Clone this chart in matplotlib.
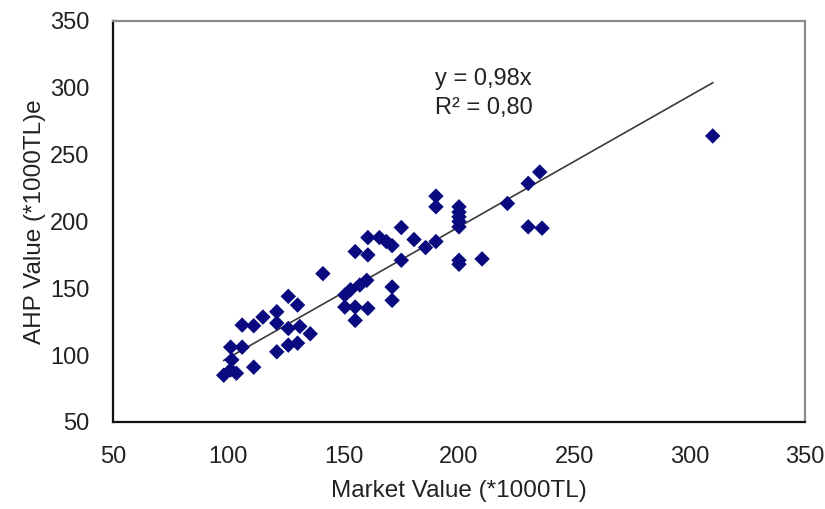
import numpy as np
import matplotlib
matplotlib.use("Agg")
import matplotlib.pyplot as plt

plt.rcParams['font.family'] = ['Liberation Sans', 'DejaVu Sans']

# Market value vs AHP value (*1000TL)
market = [310, 235, 230, 221, 230, 236, 190, 190,
          200, 200, 200, 200, 200, 200, 200, 210,
          175, 180.5, 185.5, 190, 175,
          160.5, 165.5, 168.5, 171, 155, 160.5,
          141, 160, 157, 153, 150.5, 150.5, 155, 160.5, 155,
          171, 171,
          126, 130, 121, 115, 111, 106, 121, 126, 131, 135.5,
          130, 126, 121, 106, 101, 101.5, 111, 98, 103.5, 101]
ahp = [264, 237, 228.5, 213.5, 196, 195, 219, 211,
       211, 207, 203.5, 200, 196, 171, 168, 172,
       195.5, 186.5, 180.5, 185, 171,
       188, 188, 185, 182, 177.5, 175,
       161, 156, 152.5, 149, 145, 136, 136, 135, 126,
       151, 141,
       144, 137.5, 132.5, 128.5, 122, 122.5, 124, 120, 121.5, 116,
       109, 107.5, 102.5, 106, 106, 96.5, 91, 85, 86.5, 89]

slope = 0.98
r2 = 0.80
ticks = [50, 100, 150, 200, 250, 300, 350]

fig = plt.figure(figsize=(8.25, 5.09), dpi=100)
ax = fig.add_axes([113 / 825, 1 - 422 / 509, 692 / 825, 401 / 509])

ax.scatter(market, ahp, marker='D', s=62, color='#0a0a80', edgecolors='none', zorder=3)

# trend line through origin
xl = np.array([min(market), max(market)])
ax.plot(xl, slope * xl, color='#3a3a3a', lw=1.2, zorder=2)

ax.text(189.5, 296, f"y = {slope:.2f}x\nR² = {r2:.2f}".replace('.', ','),
        ha='left', va='center', fontsize=17, linespacing=1.4, color='#222222')

ax.set_xlim(50, 350)
ax.set_ylim(50, 350)
ax.set_xticks(ticks)
ax.set_yticks(ticks)
ax.tick_params(length=0, labelsize=17, pad=17, colors='#222222')
ax.set_xlabel("Market Value (*1000TL)", fontsize=17.5, color='#222222', labelpad=9)
ax.set_ylabel("AHP Value (*1000TL)e", fontsize=17.5, color='#222222', labelpad=3)

for s in ['left', 'bottom']:
    ax.spines[s].set_color('#111111')
    ax.spines[s].set_linewidth(1.6)
for s in ['top', 'right']:
    ax.spines[s].set_color('#8a8a8a')
    ax.spines[s].set_linewidth(1.6)

fig.savefig('out.png', dpi=100)
